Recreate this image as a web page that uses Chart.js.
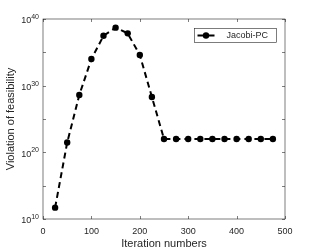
<!DOCTYPE html>
<html>
<head>
<meta charset="utf-8">
<script src="https://cdn.jsdelivr.net/npm/chart.js@4/dist/chart.umd.min.js"></script>
<style>
    html, body { margin: 0; padding: 0; background: #fff; }
    #wrap { width: 315px; height: 252px; }
</style>
</head>
<body>
<div id="wrap"><canvas id="myChart"></canvas></div>
<script>
const iterations = [25, 50, 75, 100, 125, 150, 175, 200, 225, 250, 275, 300, 325, 350, 375, 400, 425, 450, 475];
const violation = [5e11, 3e21, 4e28, 1e34, 3e37, 5e38, 7e37, 4e34, 2e28,
    1e22, 1e22, 1e22, 1e22, 1e22, 1e22, 1e22, 1e22, 1e22, 1e22];
const seriesName = 'Jacobi-PC';
const xTicks = [0, 100, 200, 300, 400, 500];
const yTicks = [1e10, 1e15, 1e20, 1e25, 1e30, 1e35, 1e40];
const yLabelExps = [10, 20, 30, 40];

const axisColor = '#262626';
const fontFamily = '"Liberation Sans", Arial, sans-serif';

// MATLAB style box, inward ticks, 10^n labels and legend
const matlabAxes = {
    id: 'matlabAxes',
    afterDraw(chart) {
        const ctx = chart.ctx;
        const a = chart.chartArea;
        const xs = chart.scales.x;
        const ys = chart.scales.y;
        const tl = 3;

        ctx.save();
        ctx.strokeStyle = axisColor;
        ctx.lineWidth = 0.6;
        ctx.strokeRect(a.left, a.top, a.right - a.left, a.bottom - a.top);

        ctx.beginPath();
        xTicks.forEach(v => {
            const px = Math.round(xs.getPixelForValue(v)) + 0.5;
            ctx.moveTo(px, a.bottom); ctx.lineTo(px, a.bottom - tl);
            ctx.moveTo(px, a.top); ctx.lineTo(px, a.top + tl);
        });
        yTicks.forEach(v => {
            const py = Math.round(ys.getPixelForValue(v)) + 0.5;
            ctx.moveTo(a.left, py); ctx.lineTo(a.left + tl, py);
            ctx.moveTo(a.right, py); ctx.lineTo(a.right - tl, py);
        });
        ctx.stroke();

        // y labels as 10 with superscript
        ctx.fillStyle = axisColor;
        ctx.textBaseline = 'middle';
        yLabelExps.forEach(e => {
            const py = ys.getPixelForValue(Math.pow(10, e));
            ctx.font = '7px ' + fontFamily;
            ctx.textAlign = 'right';
            const expW = ctx.measureText(String(e)).width;
            const right = a.left - 4;
            ctx.fillText(String(e), right, py - 2);
            ctx.font = '9px ' + fontFamily;
            ctx.fillText('10', right - expW, py + 2);
        });

        // legend
        const bx = a.right - 8.5, bw = 82, bh = 14;
        const by = a.top + 9.5;
        const lx = bx - bw;
        ctx.fillStyle = '#fff';
        ctx.fillRect(lx, by, bw, bh);
        ctx.strokeRect(lx, by, bw, bh);
        const my = by + bh / 2;
        ctx.strokeStyle = '#000';
        ctx.lineWidth = 2;
        ctx.beginPath();
        ctx.moveTo(lx + 3, my); ctx.lineTo(lx + 9, my);
        ctx.moveTo(lx + 14, my); ctx.lineTo(lx + 20, my);
        ctx.stroke();
        ctx.fillStyle = '#000';
        ctx.beginPath();
        ctx.arc(lx + 11.5, my, 3.2, 0, Math.PI * 2);
        ctx.fill();
        ctx.fillStyle = axisColor;
        ctx.font = '9px ' + fontFamily;
        ctx.textAlign = 'left';
        ctx.fillText(seriesName, lx + 32, my + 0.5);
        ctx.restore();
    }
};

const ctx = document.getElementById('myChart').getContext('2d');
const myChart = new Chart(ctx, {
    type: 'line',
    data: {
        datasets: [{
            label: seriesName,
            data: iterations.map((x, i) => ({ x: x, y: violation[i] })),
            borderColor: '#000',
            backgroundColor: '#000',
            borderWidth: 2,
            borderDash: [6, 4],
            pointRadius: 3.2,
            pointStyle: 'circle',
            pointBackgroundColor: '#000',
            pointBorderWidth: 0,
            tension: 0
        }]
    },
    options: {
        responsive: true,
        maintainAspectRatio: false,
        animation: false,
        layout: { padding: { top: 19, right: 30, left: 0, bottom: 0 } },
        plugins: {
            legend: { display: false },
            tooltip: { enabled: false }
        },
        scales: {
            x: {
                type: 'linear',
                min: 0,
                max: 500,
                afterBuildTicks: s => { s.ticks = xTicks.map(v => ({ value: v })); },
                afterFit: s => { s.height = 33; },
                grid: { display: false, drawTicks: false },
                border: { display: false },
                ticks: {
                    padding: 7,
                    color: axisColor,
                    font: { family: fontFamily, size: 9 },
                    maxRotation: 0
                },
                title: {
                    display: true,
                    text: 'Iteration numbers',
                    color: axisColor,
                    font: { family: fontFamily, size: 11 },
                    padding: { top: 0, bottom: 1 }
                }
            },
            y: {
                type: 'logarithmic',
                min: 1e10,
                max: 1e40,
                afterBuildTicks: s => { s.ticks = yTicks.map(v => ({ value: v })); },
                afterFit: s => { s.width = 43; },
                grid: { display: false, drawTicks: false },
                border: { display: false },
                ticks: { callback: () => '' },
                title: {
                    display: true,
                    text: 'Violation of feasibility',
                    color: axisColor,
                    font: { family: fontFamily, size: 11 },
                    padding: { top: 4, bottom: 0 }
                }
            }
        }
    },
    plugins: [matlabAxes]
});
</script>
</body>
</html>
